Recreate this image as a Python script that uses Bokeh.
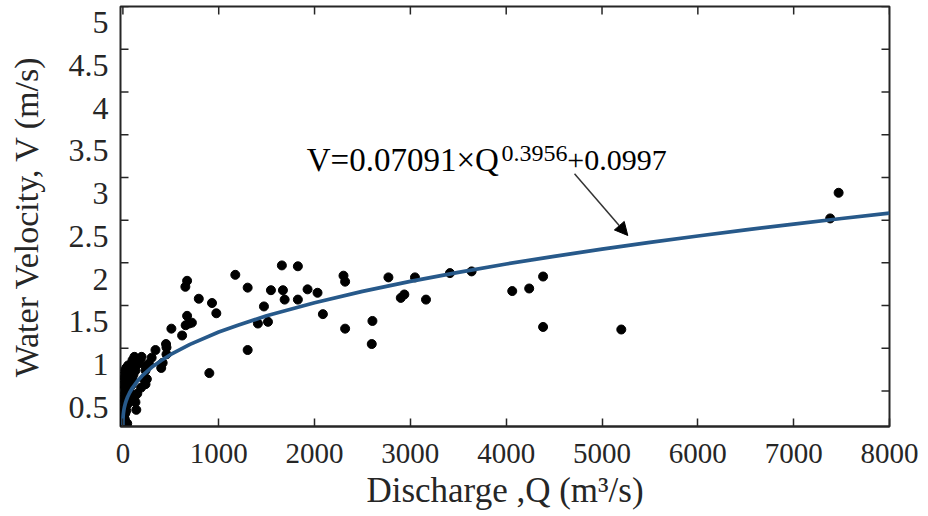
import math
from bokeh.plotting import figure
from bokeh.models import Range1d, LinearAxis, Label, Arrow, NormalHead, FixedTicker
from bokeh.embed import file_html
from bokeh.resources import INLINE

# ---- observed points (Q in m3/s, V in m/s) ----
q_obs = [
    3, 15, 30, 45, 8, 20, 5, 12, 25, 4,
    35, 18, 6, 28, 45, 10, 60, 20, 4, 35,
    15, 50, 80, 25, 8, 40, 20, 65, 10, 45,
    90, 15, 55, 30, 100, 50, 110, 40, 70, 95,
    60, 85, 0, 10, 2, 5, 20, 25, 35, 55,
    80, 100, 120,
    140, 131, 120, 150, 190, 236, 218, 250, 79, 131,
    236, 114, 131, 149, 236, 271, 195, 180, 300, 340,
    450, 455, 455, 415, 400,
    506, 618, 652, 670, 655, 690, 720, 670, 792, 930,
    975, 902, 1173, 1302, 1302, 1409, 1472, 1514, 1545, 1659,
    1670, 1688, 1826, 1826, 1927, 2031, 2087, 2302, 2319, 2319,
    2597, 2604, 2771, 2900, 2937, 3048, 3163, 3413, 3639, 4063,
    4240, 4385, 4385, 5201, 7381, 7469,
]
v_obs = [
    0.10, 0.11, 0.10, 0.12, 0.15, 0.17, 0.20, 0.22, 0.24, 0.26,
    0.27, 0.29, 0.31, 0.32, 0.34, 0.36, 0.37, 0.38, 0.41, 0.42,
    0.44, 0.45, 0.47, 0.48, 0.51, 0.52, 0.55, 0.55, 0.58, 0.58,
    0.57, 0.61, 0.62, 0.64, 0.63, 0.68, 0.69, 0.71, 0.72, 0.76,
    0.77, 0.70, 0.13, 0.19, 0.23, 0.68, 0.66, 0.74, 0.77, 0.80,
    0.81, 0.86, 0.90,
    0.28, 0.37, 0.43, 0.47, 0.54, 0.58, 0.64, 0.64, 0.66, 0.74,
    0.74, 0.80, 0.84, 0.81, 0.79, 0.82, 0.90, 0.87, 0.89, 0.98,
    1.05, 1.01, 0.93, 0.83, 0.77,
    1.23, 1.15, 1.72, 1.79, 1.27, 1.29, 1.30, 1.38, 1.58, 1.53,
    1.41, 0.71, 1.86, 1.71, 0.98, 1.29, 1.49, 1.31, 1.68, 1.97,
    1.68, 1.57, 1.96, 1.57, 1.69, 1.65, 1.40, 1.85, 1.78, 1.23,
    1.05, 1.32, 1.83, 1.59, 1.63, 1.83, 1.57, 1.88, 1.90, 1.67,
    1.70, 1.84, 1.25, 1.22, 2.52, 2.82,
]

# ---- fitted curve ----
q_fit = [0, 0.1, 0.5, 1, 2, 3, 5, 10, 15, 25, 35, 50, 70, 100, 150, 200, 300, 400,
         500, 700, 1000, 1200, 1500, 2000, 2500, 3000, 3500, 4000, 4500, 5000,
         5500, 6000, 6500, 7000, 7500, 8000]
v_fit = [0.0997, 0.128, 0.154, 0.171, 0.193, 0.209, 0.234, 0.276, 0.307, 0.353,
         0.389, 0.433, 0.480, 0.538, 0.614, 0.676, 0.777, 0.858, 0.928, 1.046,
         1.190, 1.271, 1.380, 1.534, 1.666, 1.784, 1.889, 1.987, 2.076, 2.160,
         2.240, 2.314, 2.386, 2.454, 2.519, 2.582]

x_ticks = [0, 1000, 2000, 3000, 4000, 5000, 6000, 7000, 8000]
y_ticks = [0.5, 1, 1.5, 2, 2.5, 3, 3.5, 4, 4.5, 5]
y_tick_labels = {0.5: "0.5", 1: "1", 1.5: "1.5", 2: "2", 2.5: "2.5",
                 3: "3", 3.5: "3.5", 4: "4", 4.5: "4.5", 5: "5"}

eq_main = "V=0.07091×Q"
eq_exp = "0.3956"
eq_tail = "+0.0997"
x_title = "Discharge ,Q (m³/s)"
y_title = "Water Velocity, V (m/s)"

FONT = "Liberation Serif"
INK = "#262626"

x0, x1 = -25, 8000
y0, y1 = 0.085, 5.0
shift = 0.19          # tick labels sit a little below their ticks in the source

p = figure(width=928, height=516, output_backend="svg", toolbar_location=None,
           x_range=Range1d(x0, x1), y_range=Range1d(y0, y1),
           y_axis_location=None,
           min_border_left=120, min_border_right=39, min_border_top=6,
           min_border_bottom=90, background_fill_color="white",
           border_fill_color="white")
p.outline_line_color = INK
p.outline_line_width = 2
p.grid.visible = False
p.extra_y_ranges = {"lab": Range1d(y0 + shift, y1 + shift)}

# bottom axis
xa = p.xaxis[0]
xa.ticker = FixedTicker(ticks=x_ticks)
xa.major_tick_in = 8
xa.major_tick_out = 0
xa.major_tick_line_color = INK
xa.major_tick_line_width = 1.5
xa.minor_tick_line_color = None
xa.axis_line_color = INK
xa.axis_line_width = 2
xa.major_label_text_font = FONT
xa.major_label_text_font_size = "29px"
xa.major_label_text_color = INK
xa.major_label_standoff = 17
xa.axis_label = x_title
xa.axis_label_text_font = FONT
xa.axis_label_text_font_size = "35px"
xa.axis_label_text_font_style = "normal"
xa.axis_label_text_color = INK
xa.axis_label_standoff = 5

# left axis: labels + title
yl = LinearAxis(y_range_name="lab", ticker=FixedTicker(ticks=y_ticks))
yl.major_label_overrides = y_tick_labels
yl.major_tick_in = 0
yl.major_tick_out = 0
yl.minor_tick_line_color = None
yl.axis_line_color = None
yl.major_label_text_font = FONT
yl.major_label_text_font_size = "32px"
yl.major_label_text_color = INK
yl.major_label_standoff = 12
yl.axis_label = y_title
yl.axis_label_text_font = FONT
yl.axis_label_text_font_size = "34px"
yl.axis_label_text_font_style = "normal"
yl.axis_label_text_color = INK
yl.axis_label_standoff = 21
p.add_layout(yl, "left")

# inward tick marks on the left, right and top edges of the box
p.scatter([x0] * len(y_ticks), y_ticks, marker="dash", size=16,
          line_color=INK, line_width=1.5)
p.scatter([x1] * len(y_ticks), y_ticks, marker="dash", size=16,
          line_color=INK, line_width=1.5)
p.scatter(x_ticks, [y1] * len(x_ticks), marker="dash", size=16, angle=math.pi / 2,
          line_color=INK, line_width=1.5)

# data
p.scatter(q_obs, v_obs, size=9, color="black", line_color="black")
p.line(q_fit, v_fit, line_color="#27598a", line_width=3.7)

# equation annotation
p.add_layout(Label(x=1919, y=3.198, text=eq_main, text_font=FONT,
                   text_font_size="33px", text_color="black",
                   text_baseline="alphabetic"))
p.add_layout(Label(x=3950, y=3.282, text=eq_exp, text_font=FONT,
                   text_font_size="24px", text_color="black",
                   text_baseline="alphabetic"))
p.add_layout(Label(x=4637, y=3.198, text=eq_tail, text_font=FONT,
                   text_font_size="30px", text_color="black",
                   text_baseline="alphabetic"))
p.add_layout(Arrow(x_start=4713, y_start=3.042, x_end=5269, y_end=2.32,
                   line_color="#333333", line_width=1.5,
                   end=NormalHead(size=13, fill_color="black",
                                  line_color="black")))

open("out.html", "w").write(file_html(p, INLINE))
